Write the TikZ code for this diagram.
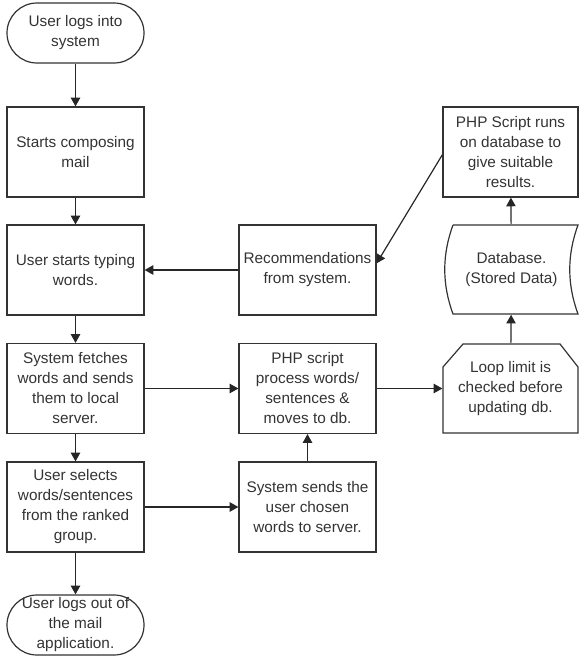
\documentclass[tikz,border=0pt]{standalone}
\usepackage{fontspec}
\setmainfont{Liberation Sans}
\usetikzlibrary{arrows.meta}
\tikzset{
	box/.style={draw=black!80, line width=0.9pt, minimum width=102.75pt, minimum height=67.5pt, align=center, inner sep=2pt, text=black!80, font=\fontsize{11.5}{15}\selectfont},
	term/.style={box, rounded corners=22.5pt, minimum height=45pt, inner ysep=0pt},
	blank/.style={box, draw=none, minimum width=100.5pt, minimum height=67pt},
	conn/.style={->, draw=black!85, line width=0.9pt},
}
\begin{document}
\begin{tikzpicture}[>={Triangle[length=6.5pt,width=7pt]}, x=0.75pt, y=-0.75pt]
		\useasboundingbox (0,0) rectangle (579,657);
		% left column
		\node[term] (login) at (75.5,33) {User logs into\\system};
		\node[box] (compose) at (75.5,152) {Starts composing\\mail};
		\node[box] (typing) at (75.5,270) {User starts typing\\words.};
		\node[box] (fetch) at (75.5,388.5) {System fetches\\words and sends\\them to local\\server.};
		\node[box] (select) at (75.5,507) {User selects\\words/sentences\\from the ranked\\group.};
		\node[term] (logout) at (75.5,625) {User logs out of\\the mail\\application.};
		% middle column
		\node[box] (recom) at (307.5,270) {Recommendations\\from system.};
		\node[box] (phpproc) at (307.5,388.5) {PHP script\\process words/\\sentences \&\\moves to db.};
		\node[box] (sends) at (307.5,507) {System sends the\\user chosen\\words to server.};
		% right column
		\node[box, minimum width=101.25pt] (phprun) at (510.5,152) {PHP Script runs\\on database to\\give suitable\\results.};
		\node[blank] (db) at (511.5,269.5) {Database.\\(Stored Data)};
		\draw[black!80, line width=0.9pt] (453,225) -- (578,225) .. controls (567,255) and (567,284) .. (578,314) -- (453,314) .. controls (442,284) and (442,255) .. (453,225);
		\node[blank, minimum width=101.25pt] (loop) at (510.5,388.5) {Loop limit is\\checked before\\updating db.};
		\draw[black!80, line width=0.9pt] (443,367) -- (463,344) -- (560,344) -- (578,367) -- (578,433) -- (443,433) -- cycle;
		% connectors
		\draw[conn] (login) -- (compose);
		\draw[conn] (compose) -- (typing);
		\draw[conn] (typing) -- (fetch);
		\draw[conn] (fetch) -- (select);
		\draw[conn] (select) -- (logout);
		\draw[conn] (recom) -- (typing);
		\draw[conn] (fetch) -- (phpproc);
		\draw[conn] (select) -- (sends);
		\draw[conn] (sends) -- (phpproc);
		\draw[conn] (phpproc) -- (loop);
		\draw[conn] (loop) -- (db);
		\draw[conn] (db) -- (phprun);
		\draw[conn] ([yshift=-2pt]phprun.west) -- ([yshift=5pt]recom.east);
		\end{tikzpicture}
\end{document}
